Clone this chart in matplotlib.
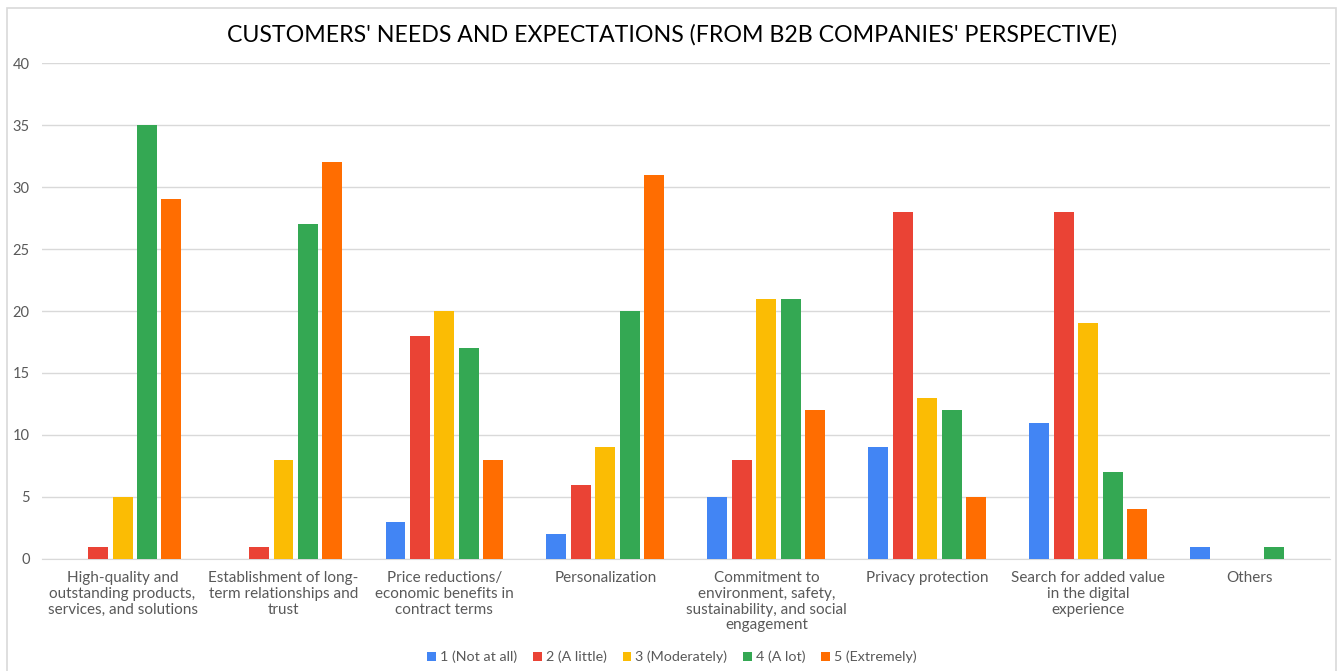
import matplotlib.pyplot as plt
from matplotlib.patches import Rectangle
import numpy as np

# Survey answers per need, split by rating level
categories = [
    "High-quality and\noutstanding products,\nservices, and solutions",
    "Establishment of long-\nterm relationships and\ntrust",
    "Price reductions/\neconomic benefits in\ncontract terms",
    "Personalization",
    "Commitment to\nenvironment, safety,\nsustainability, and social\nengagement",
    "Privacy protection",
    "Search for added value\nin the digital\nexperience",
    "Others",
]
not_at_all = [0, 0, 3, 2, 5, 9, 11, 1]
a_little = [1, 1, 18, 6, 8, 28, 28, 0]
moderately = [5, 8, 20, 9, 21, 13, 19, 0]
a_lot = [35, 27, 17, 20, 21, 12, 7, 1]
extremely = [29, 32, 8, 31, 12, 5, 4, 0]

series_labels = ["1 (Not at all)", "2 (A little)", "3 (Moderately)", "4 (A lot)", "5 (Extremely)"]
series_values = [not_at_all, a_little, moderately, a_lot, extremely]
colors = ["#4285F4", "#EA4335", "#FBBC04", "#34A853", "#FF6D01"]

plt.rcParams['font.family'] = ['Lato', 'DejaVu Sans']

fig = plt.figure(figsize=(13.44, 6.71), dpi=100)
ax = fig.add_axes([0.0313, 0.167, 0.958, 0.739])

x = np.arange(len(categories))
step = 0.152
width = 0.124
for i, (vals, lab, col) in enumerate(zip(series_values, series_labels, colors)):
    ax.bar(x + (i - 2) * step, vals, width, label=lab, color=col, zorder=3)

ax.set_xlim(-0.5, len(categories) - 0.5)
ax.set_ylim(0, 40)
ax.set_yticks(range(0, 41, 5))
ax.yaxis.grid(True, color="#d9d9d9", linewidth=1, zorder=0)
ax.set_xticks(x)
ax.set_xticklabels(categories, fontsize=11, color="#595959", linespacing=1.15)
ax.tick_params(axis="y", labelsize=10.5, labelcolor="#595959", length=0, pad=9)
ax.tick_params(axis="x", length=0, pad=9)
for side in ["top", "right", "left"]:
    ax.spines[side].set_visible(False)
ax.spines["bottom"].set_color("#d9d9d9")

fig.text(0.5, 0.948, "CUSTOMERS' NEEDS AND EXPECTATIONS (FROM B2B COMPANIES' PERSPECTIVE)",
         ha="center", va="center", fontsize=16.7, color="#000000")

fig.legend(loc="lower center", bbox_to_anchor=(0.5, -0.008), ncol=5, frameon=False,
           fontsize=10.3, labelcolor="#595959", handlelength=0.6, handleheight=0.6,
           handletextpad=0.3, columnspacing=1.1)

# light frame around the whole chart
fig.patches.append(Rectangle((7 / 1344, -0.01), 1329 / 1344, 1 - 8 / 671 + 0.01,
                             transform=fig.transFigure, fill=False,
                             edgecolor="#d9d9d9", linewidth=1.2))

fig.savefig("out.png", dpi=100)
